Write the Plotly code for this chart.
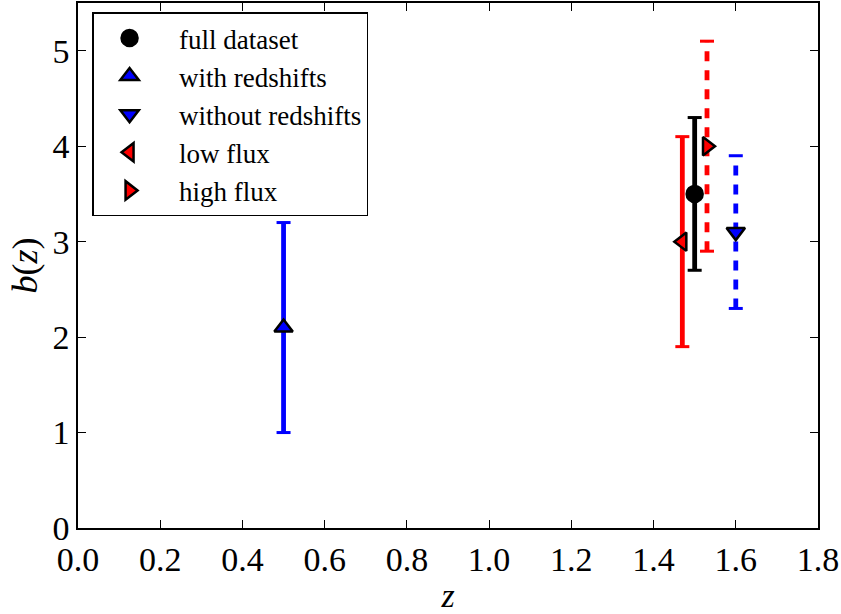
import plotly.graph_objects as go

# ---- data ----
labels = ["full dataset", "with redshifts", "without redshifts", "low flux", "high flux"]
z_vals = [1.50, 0.50, 1.60, 1.47, 1.53]
b_vals = [3.5, 2.1, 3.1, 3.0, 4.0]
b_errs = [0.8, 1.1, 0.8, 1.1, 1.1]

x_ticks = [0.0, 0.2, 0.4, 0.6, 0.8, 1.0, 1.2, 1.4, 1.6, 1.8]
x_ticklabels = ["0.0", "0.2", "0.4", "0.6", "0.8", "1.0", "1.2", "1.4", "1.6", "1.8"]
y_ticks = [0, 1, 2, 3, 4, 5]
y_ticklabels = ["0", "1", "2", "3", "4", "5"]

# ---- styles ----
colors = ["black", "blue", "blue", "red", "red"]
symbols = ["circle", "triangle-up", "triangle-down", "triangle-left", "triangle-right"]
dashes = ["solid", "solid", "10px,9px", "solid", "10px,9px"]

FONT = "Liberation Serif"
fig = go.Figure()

# error bar lines and caps
for i in range(len(labels)):
    lo = b_vals[i] - b_errs[i]
    hi = b_vals[i] + b_errs[i]
    fig.add_trace(go.Scatter(
        x=[z_vals[i], z_vals[i]], y=[lo, hi], mode="lines",
        line=dict(color=colors[i], width=4.8, dash=dashes[i]),
        showlegend=False, hoverinfo="skip"))
    fig.add_trace(go.Scatter(
        x=[z_vals[i], z_vals[i]], y=[lo, hi], mode="markers",
        marker=dict(symbol="line-ew", size=10, line=dict(color=colors[i], width=3)),
        showlegend=False, hoverinfo="skip"))

# markers (legend entries)
for i in range(len(labels)):
    fig.add_trace(go.Scatter(
        x=[z_vals[i]], y=[b_vals[i]], mode="markers", name="\u2002" + labels[i],
        marker=dict(symbol=symbols[i], size=16,
                    color=colors[i], line=dict(color="black", width=2.5))))

axis_common = dict(
    showline=True, linecolor="black", linewidth=1.5, mirror="ticks",
    ticks="inside", ticklen=8, tickwidth=1, tickcolor="black",
    showgrid=False, zeroline=False,
    tickfont=dict(family=FONT, size=34, color="black"),
)

fig.update_layout(
    width=841, height=614,
    margin=dict(l=78, r=23, t=1, b=81),
    paper_bgcolor="white", plot_bgcolor="white",
    font=dict(family=FONT, color="black"),
    xaxis=dict(range=[0, 1.8], tickvals=x_ticks, ticktext=x_ticklabels,
               title=dict(text="<i>z</i>", font=dict(family=FONT, size=34), standoff=12),
               **axis_common),
    yaxis=dict(range=[0, 5.5], tickvals=y_ticks, ticktext=y_ticklabels,
               title=dict(text="<i>b</i>(<i>z</i>)", font=dict(family=FONT, size=36), standoff=4),
               **axis_common),
    legend=dict(x=0.019, y=0.982, xanchor="left", yanchor="top",
                bgcolor="white", bordercolor="black", borderwidth=1.5,
                font=dict(family=FONT, size=27, color="black"),
                itemwidth=62),
    showlegend=True,
)

fig.write_html("out.html")
